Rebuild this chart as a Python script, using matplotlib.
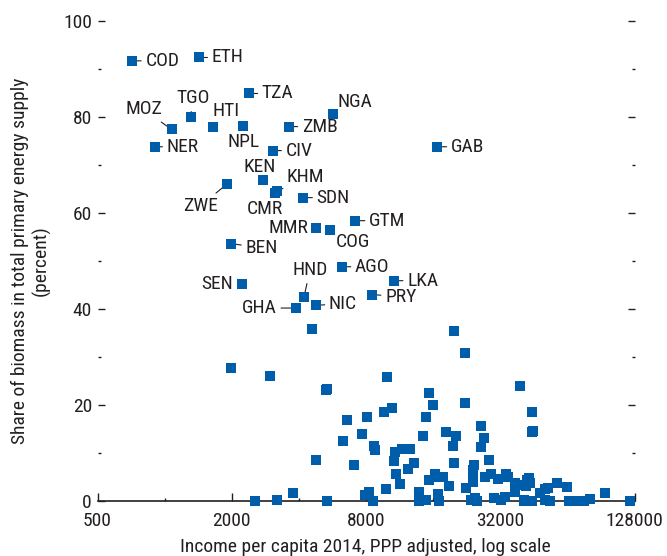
import matplotlib
matplotlib.use("Agg")
import matplotlib.pyplot as plt
from matplotlib import font_manager
from matplotlib.ticker import FixedLocator, NullFormatter

# pick a narrow font if one is installed
names = {f.name for f in font_manager.fontManager.ttflist}
family = "DejaVu Sans"
for cand in ["Liberation Sans Narrow", "Roboto Condensed", "DejaVu Sans Condensed", "Liberation Sans"]:
    if cand in names:
        family = cand
        break
plt.rcParams["font.family"] = [family, "DejaVu Sans"]

# labelled countries: code, income per capita, biomass share
codes = ["COD", "ETH", "TZA", "NGA", "TGO", "MOZ", "HTI", "NPL", "ZMB", "NER",
         "CIV", "GAB", "KEN", "ZWE", "KHM", "CMR", "SDN", "GTM", "MMR", "COG",
         "BEN", "AGO", "SEN", "LKA", "PRY", "HND", "GHA", "NIC"]
lab_income = [716, 1421, 2385, 5670, 1309, 1075, 1643, 2257, 3607, 902,
              3047, 16620, 2748, 1913, 3180, 3110, 4156, 7140, 4755, 5495,
              1993, 6242, 2212, 10690, 8515, 4212, 3878, 4770]
lab_share = [91.7, 92.4, 84.9, 80.7, 79.9, 77.4, 78.0, 78.2, 78.0, 73.8,
             73.0, 73.8, 66.9, 66.1, 64.5, 64.2, 63.2, 58.4, 56.9, 56.5,
             53.6, 48.8, 45.3, 45.9, 43.0, 42.4, 40.2, 40.8]

# other countries (unlabelled)
income = [1980, 2963, 5307, 5360, 9910, 6553, 8083, 9606, 7648, 6285,
          8664, 8780, 4770, 7043, 3759, 2537, 3176, 5327, 8226, 7917,
          8600, 9840, 4574, 19880, 22280, 39370, 15350, 16000, 22280, 10500,
          14880, 26290, 27110, 14380, 18250, 20230, 19620, 26220, 10760, 11610,
          12610, 10650, 13110, 12390, 28560, 19820, 24460, 10880, 11340, 16330,
          15350, 17800, 16800, 18820, 24200, 24200, 24200, 22440, 27320, 29160,
          31240, 34060, 34760, 37370, 37370, 39370, 42190, 41700, 13840, 13900,
          14880, 16900, 17000, 23700, 24710, 25150, 29860, 32090, 33700, 41020,
          44410, 44890, 44500, 43200, 43700, 40730, 37370, 40730, 44410, 48400,
          50600, 51000, 53300, 52200, 57500, 63800, 64860, 70750, 75750, 81200,
          94800, 122800]
share = [27.8, 26.0, 23.1, 23.4, 25.9, 16.9, 17.4, 18.6, 14.0, 12.6,
         11.5, 10.7, 8.6, 7.4, 1.7, 0.0, 0.3, 0.0, 1.8, 1.25,
         0.0, 2.4, 35.8, 35.4, 30.9, 24.0, 22.4, 20.1, 20.5, 19.4,
         17.4, 15.7, 13.2, 13.6, 14.4, 13.5, 11.5, 11.3, 10.3, 10.8,
         10.8, 8.4, 8.0, 6.6, 8.6, 8.0, 7.4, 5.7, 3.6, 5.6,
         4.4, 5.1, 4.9, 3.2, 6.5, 5.1, 4.0, 2.8, 4.9, 5.6,
         4.6, 5.6, 5.1, 3.8, 2.3, 3.3, 4.4, 3.2, 1.8, 0.0,
         0.2, 1.5, 0.0, 0.2, 0.6, 0.1, 0.7, 0.2, 0.9, 0.2,
         18.5, 14.6, 14.3, 4.7, 3.7, 3.3, 1.9, 0.0, 0.0, 1.6,
         0.2, 2.4, 0.0, 2.8, 3.8, 3.0, 0.0, 0.0, 0.0, 0.4,
         1.7, 0.0]

# label placement: (dx, dy) in pixels, horizontal alignment, leader line
label_pos = {
    "COD": (13, 0, "left", True), "ETH": (13, 0, "left", True),
    "TZA": (13, 0, "left", True), "NGA": (5, 12, "left", False),
    "TGO": (2, 19, "center", True), "MOZ": (-28, 20, "center", True),
    "HTI": (13, 16, "center", True), "NPL": (0, -16, "center", False),
    "ZMB": (13, 0, "left", True), "NER": (12, 0, "left", True),
    "CIV": (13, 0, "left", True), "GAB": (14, 0, "left", True),
    "KEN": (-3, 13, "center", False), "ZWE": (-27, -22, "center", True),
    "KHM": (29, 14, "center", True), "CMR": (-10, -16, "center", True),
    "SDN": (14, 0, "left", True), "GTM": (14, 0, "left", True),
    "MMR": (-7, 0, "right", True), "COG": (6, -12, "left", False),
    "BEN": (14, -4, "left", True), "AGO": (13, 0, "left", True),
    "SEN": (-9, 0, "right", False), "LKA": (13, 0, "left", True),
    "PRY": (13, -2, "left", True), "HND": (6, 27, "center", True),
    "GHA": (-19, 0, "right", True), "NIC": (13, 1, "left", True),
}

blue = "#005DAA"
ink = "#231F20"
fs = 14

fig = plt.figure(figsize=(6.67, 5.56), dpi=100)
ax = fig.add_axes([97.5 / 667, 55 / 556, 537 / 667, 480 / 556])

ax.scatter(income, share, marker="s", s=47, color=blue, linewidths=0,
           zorder=4, clip_on=False)
ax.scatter(lab_income, lab_share, marker="s", s=47, color=blue, linewidths=0,
           zorder=4, clip_on=False)

for code, x, y in zip(codes, lab_income, lab_share):
    dx, dy, ha, line = label_pos[code]
    arrow = dict(arrowstyle="-", color=ink, lw=0.8, shrinkA=1, shrinkB=0) if line else None
    ax.annotate(code, (x, y), xytext=(dx, dy), textcoords="offset pixels",
                ha=ha, va="center", fontsize=fs, color=ink,
                arrowprops=arrow, zorder=3)

ax.set_xscale("log", base=2)
ax.set_xlim(500, 128000)
ax.set_ylim(0, 100)

ax.xaxis.set_major_locator(FixedLocator([500, 2000, 8000, 32000, 128000]))
ax.xaxis.set_minor_locator(FixedLocator([1000, 4000, 16000, 64000]))
ax.set_xticklabels(["500", "2000", "8000", "32000", "128000"])
ax.xaxis.set_minor_formatter(NullFormatter())
ax.yaxis.set_major_locator(FixedLocator([0, 20, 40, 60, 80, 100]))
ax.yaxis.set_minor_locator(FixedLocator([10, 30, 50, 70, 90]))

for side in ["top", "left", "right"]:
    ax.spines[side].set_visible(False)
ax.spines["bottom"].set_color(ink)
ax.spines["bottom"].set_linewidth(1.2)

ax.tick_params(axis="x", which="major", direction="in", length=5.5, width=1,
               color=ink, labelsize=fs, labelcolor=ink, pad=8)
ax.tick_params(axis="x", which="minor", direction="in", length=2.5, width=1, color=ink)
ax.tick_params(axis="y", which="major", direction="in", length=5, width=1,
               color=ink, labelsize=fs, labelcolor=ink, pad=4, right=True)
ax.tick_params(axis="y", which="minor", direction="in", length=2.5, width=1,
               color=ink, right=True)

fig.text(365 / 667, 1 - 547 / 556, "Income per capita 2014, PPP adjusted, log scale",
         ha="center", va="center", fontsize=fs, color=ink)
fig.text(31 / 667, 1 - 261 / 556,
         "Share of biomass in total primary energy supply\n(percent)",
         ha="center", va="center", rotation=90, fontsize=fs, color=ink,
         linespacing=1.15, multialignment="center")

fig.savefig("out.png", dpi=100)
